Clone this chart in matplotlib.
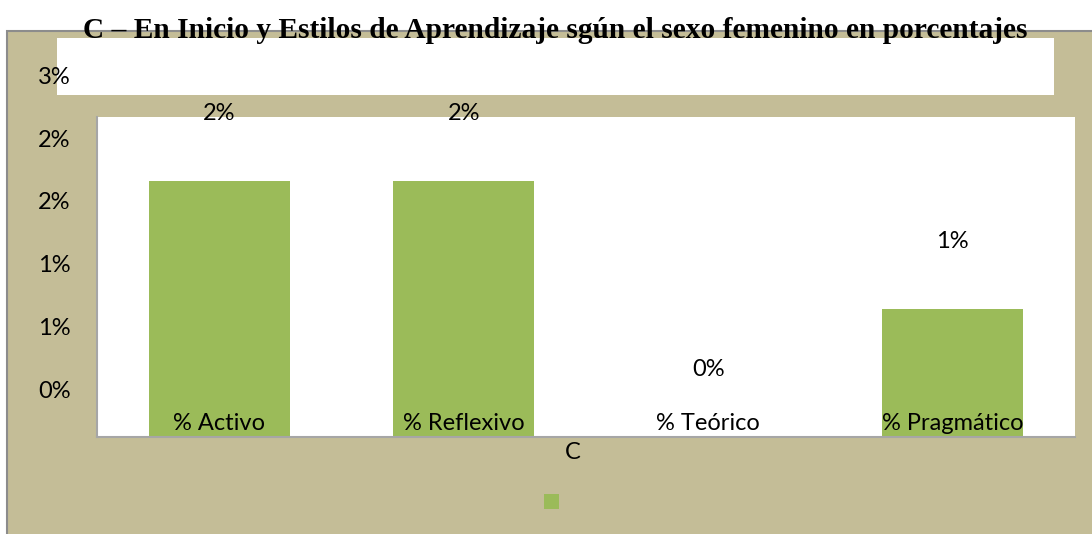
import matplotlib
matplotlib.use('Agg')
import matplotlib.pyplot as plt
import matplotlib.transforms as mtransforms
from matplotlib.patches import Rectangle

# data (percent)
categorias = ["% Activo", "% Reflexivo", "% Teórico", "% Pragmático"]
valores = [2.04, 2.04, 0.0, 1.02]
etiquetas = ["2%", "2%", "0%", "1%"]
y_ticks = [0, 0.5, 1.0, 1.5, 2.0, 2.5]
y_labels = ["0%", "1%", "1%", "2%", "2%", "3%"]

KHAKI = "#C4BD97"
GREEN = "#9BBB59"
W, H = 1092, 534
FS = 17

fig = plt.figure(figsize=(W / 100, H / 100), dpi=100)
fig.patch.set_facecolor("white")

# khaki chart area with gray border
fig.patches.append(Rectangle((7 / W, -0.1), 1.2, 1.1 - 31 / H, transform=fig.transFigure,
                             facecolor=KHAKI, edgecolor="#8c8c8c", linewidth=1.5, zorder=-5))
# white band behind the top
fig.patches.append(Rectangle((57 / W, 1 - 95 / H), (1054 - 57) / W, (95 - 38) / H,
                             transform=fig.transFigure, facecolor="white", edgecolor="none", zorder=-4))

ax = fig.add_axes([97 / W, 1 - 437 / H, (1075 - 97) / W, (437 - 117) / H])
ax.set_facecolor("white")
x = range(len(categorias))
ax.bar(x, valores, width=0.575, color=GREEN, zorder=2)
ax.set_xlim(-0.5, 3.5)
ax.set_ylim(0, 2.55)

for i, (v, t) in enumerate(zip(valores, etiquetas)):
    ax.annotate(t, (i, v), xytext=(0, 68), textcoords="offset pixels",
                ha="center", va="center", fontsize=FS, family="Lato")
    ax.annotate(categorias[i], (i, 0), xytext=(0, 13), textcoords="offset pixels",
                ha="center", va="center", fontsize=FS, family="Lato", zorder=3)

ax.set_yticks(y_ticks)
ax.set_yticklabels(y_labels, fontsize=FS, family="Lato")
ax.tick_params(axis="y", length=0, pad=19)
off = mtransforms.ScaledTranslation(0, 48 / 100, fig.dpi_scale_trans)
for lab in ax.get_yticklabels():
    lab.set_transform(lab.get_transform() + off)
ax.set_xticks([])
ax.set_xlabel("C", fontsize=FS, family="Lato")
ax.xaxis.set_label_coords((573 - 97) / (1075 - 97), -0.015)
ax.xaxis.label.set_va("top")

for s in ["top", "right"]:
    ax.spines[s].set_visible(False)
for s in ["left", "bottom"]:
    ax.spines[s].set_color("#a6a6a6")
    ax.spines[s].set_linewidth(1.5)

fig.text(555 / W, 1 - 30 / H,
         "C – En Inicio y Estilos de Aprendizaje sgún el sexo femenino en porcentajes",
         ha="center", va="center", fontsize=21.2, fontweight="bold", family="Liberation Serif")

# legend marker with no text
leg_ax = fig.add_axes([0, 0, 1, 1], facecolor="none")
leg_ax.axis("off")
leg_ax.add_patch(Rectangle((544 / W, 1 - 509 / H), 15 / W, 15 / H, facecolor=GREEN, edgecolor="none"))

fig.savefig("out.png", dpi=100)
